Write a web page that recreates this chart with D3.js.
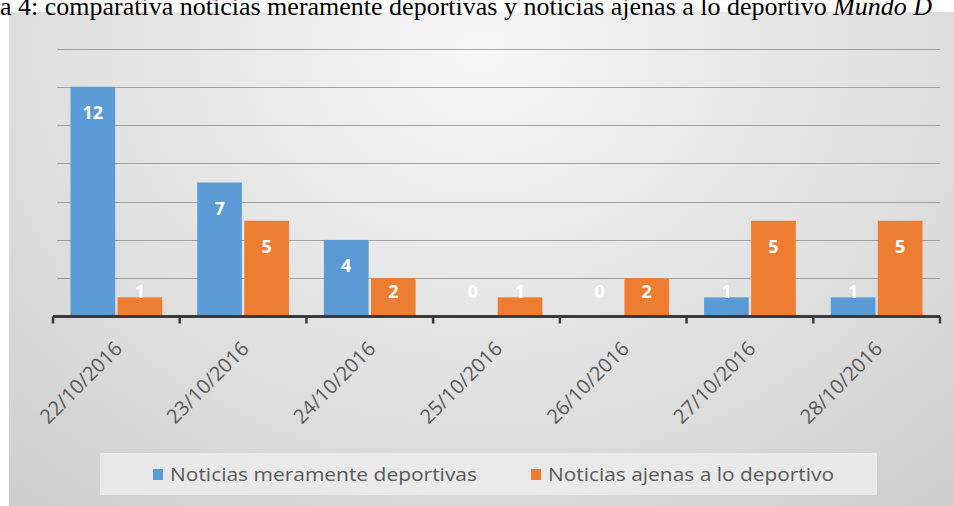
<!DOCTYPE html>
<html>
<head>
<meta charset="utf-8">
<script src="https://cdn.jsdelivr.net/npm/d3@7"></script>
<style>
  html, body { margin: 0; padding: 0; background: #ffffff; }
  svg { display: block; }
</style>
</head>
<body>
<div id="chart"></div>
<script>
// data
const categories = ["22/10/2016", "23/10/2016", "24/10/2016", "25/10/2016", "26/10/2016", "27/10/2016", "28/10/2016"];
const seriesNames = ["Noticias meramente deportivas", "Noticias ajenas a lo deportivo"];
const deportivas = [12, 7, 4, 0, 0, 1, 1];
const ajenas = [1, 5, 2, 1, 2, 5, 5];
const yTickValues = [2, 4, 6, 8, 10, 12, 14];
const captionText = "a 4: comparativa noticias meramente deportivas y noticias ajenas a lo deportivo ";
const captionItalic = "Mundo D";

const colors = ["#5b9bd5", "#ed7d31"];
const W = 954, H = 506;

const svg = d3.select("#chart").append("svg")
    .attr("width", W)
    .attr("height", H);

// background gradient of the chart area
const defs = svg.append("defs");
const grad = defs.append("radialGradient")
    .attr("id", "bg")
    .attr("cx", "50%").attr("cy", "8%")
    .attr("r", "80%")
    .attr("gradientTransform", "translate(0.5,0.08) scale(1,1.6) translate(-0.5,-0.08)");
grad.append("stop").attr("offset", "0%").attr("stop-color", "#f6f6f6");
grad.append("stop").attr("offset", "55%").attr("stop-color", "#e0e0e0");
grad.append("stop").attr("offset", "100%").attr("stop-color", "#cbcbcb");

svg.append("rect")
    .attr("x", 9).attr("y", 12)
    .attr("width", W - 9).attr("height", H - 12)
    .attr("fill", "url(#bg)");

// caption (cut off at the top like the scan)
const cap = svg.append("text")
    .attr("x", 0).attr("y", 15)
    .style("font-family", "'Liberation Serif', 'DejaVu Serif', serif")
    .style("font-size", "26px")
    .style("fill", "#000");
cap.append("tspan").text(captionText);
cap.append("tspan").style("font-style", "italic").text(captionItalic);

const x0 = d3.scaleBand()
    .domain(categories)
    .range([53, 940])
    .padding(0);

const x1 = d3.scaleBand()
    .domain(seriesNames)
    .range([17.5, x0.bandwidth() - 17.5])
    .paddingInner(0.05);

const y = d3.scaleLinear()
    .domain([0, 14])
    .range([316.5, 48.5]);

// gridlines
svg.append("g")
    .selectAll("line")
    .data(yTickValues)
    .enter()
    .append("line")
    .attr("x1", 57)
    .attr("x2", 940)
    .attr("y1", d => Math.round(y(d)) + 0.5)
    .attr("y2", d => Math.round(y(d)) + 0.5)
    .style("stroke", "#8a8a8a")
    .style("stroke-opacity", 0.75)
    .style("stroke-width", 1);

const rows = categories.map((c, i) => ({cat: c, values: [deportivas[i], ajenas[i]]}));

// bars
const groups = svg.append("g")
    .selectAll("g")
    .data(rows)
    .enter()
    .append("g")
    .attr("transform", d => "translate(" + x0(d.cat) + ",0)");

groups.selectAll("rect")
    .data(d => d.values.map((v, k) => ({series: seriesNames[k], k: k, v: v})))
    .enter()
    .append("rect")
    .attr("x", d => x1(d.series))
    .attr("y", d => y(d.v))
    .attr("width", x1.bandwidth())
    .attr("height", d => y(0) - y(d.v))
    .style("fill", d => colors[d.k]);

// data labels
groups.selectAll("text")
    .data(d => d.values.map((v, k) => ({series: seriesNames[k], k: k, v: v})))
    .enter()
    .append("text")
    .attr("x", d => x1(d.series) + x1.bandwidth() / 2)
    .attr("y", d => Math.min(y(d.v) + 26, y(0) - 25) + 6.5)
    .attr("text-anchor", "middle")
    .style("font-family", "'Open Sans', 'Noto Sans', sans-serif")
    .style("font-weight", "bold")
    .style("font-size", "18px")
    .style("fill", "#ffffff")
    .text(d => d.v);

// x axis
const xAxis = d3.axisBottom(x0).tickSize(0).tickFormat("");
const axisG = svg.append("g")
    .attr("transform", "translate(0," + y(0) + ")")
    .call(xAxis);
axisG.select(".domain")
    .attr("d", "M53,0H940")
    .style("stroke", "#3a3a3a")
    .style("stroke-width", 3);

// tick marks at band edges
svg.append("g")
    .selectAll("line")
    .data(categories.concat(["end"]))
    .enter()
    .append("line")
    .attr("x1", (d, i) => 53 + i * x0.step())
    .attr("x2", (d, i) => 53 + i * x0.step())
    .attr("y1", y(0))
    .attr("y2", y(0) + 7)
    .style("stroke", "#3a3a3a")
    .style("stroke-width", 2.5);

// rotated category labels
svg.append("g")
    .selectAll("text")
    .data(categories)
    .enter()
    .append("text")
    .attr("transform", d => "translate(" + (x0(d) + x0.bandwidth() / 2 + 7) + ",350) rotate(-45)")
    .attr("text-anchor", "end")
    .style("font-family", "'Open Sans', 'Noto Sans', sans-serif")
    .style("font-size", "20px")
    .style("fill", "#595959")
    .text(d => d);

// legend
svg.append("rect")
    .attr("x", 100).attr("y", 453)
    .attr("width", 777).attr("height", 42)
    .style("fill", "#ededed")
    .style("fill-opacity", 0.8);

const legendX = [153, 531];
const legendW = [307, 286];
const leg = svg.append("g")
    .selectAll("g")
    .data(seriesNames)
    .enter()
    .append("g")
    .attr("transform", (d, i) => "translate(" + legendX[i] + ",0)");

leg.append("rect")
    .attr("x", 0).attr("y", 469)
    .attr("width", 10).attr("height", 11)
    .style("fill", (d, i) => colors[i]);

leg.append("text")
    .attr("x", 17).attr("y", 481)
    .attr("textLength", (d, i) => legendW[i])
    .attr("lengthAdjust", "spacingAndGlyphs")
    .style("font-family", "'Open Sans', 'Noto Sans', sans-serif")
    .style("font-size", "18px")
    .style("fill", "#595959")
    .text(d => d);
</script>
</body>
</html>
